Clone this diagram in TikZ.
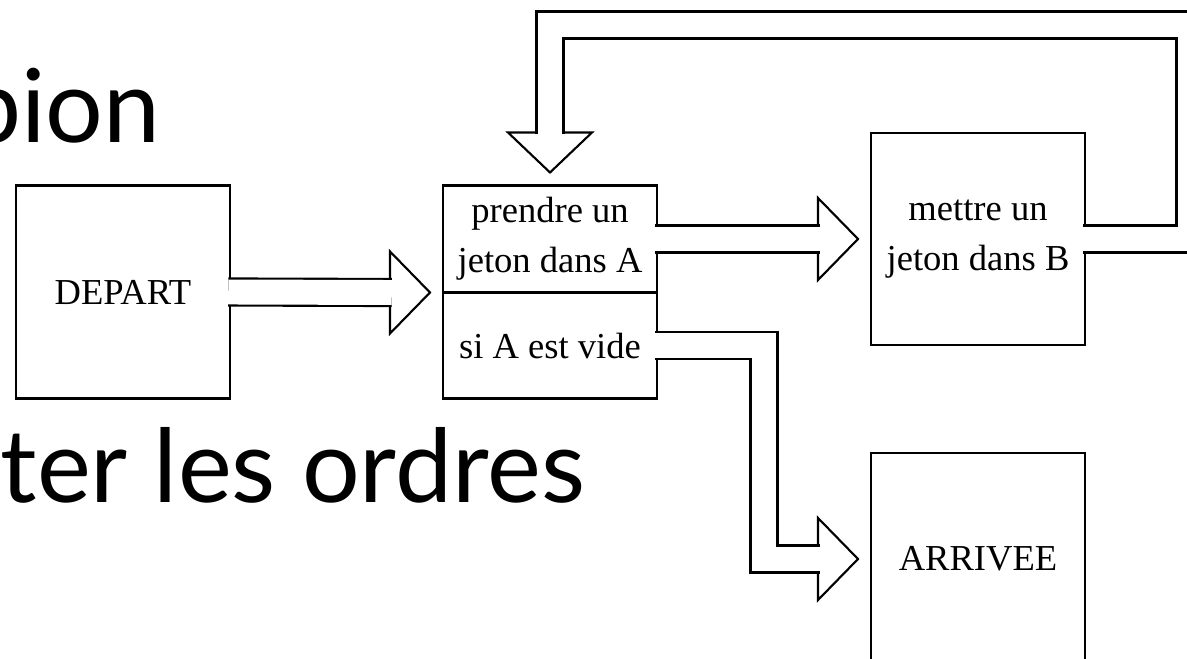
\documentclass[tikz,border=0pt]{standalone}
\usepackage{fontspec}
\setmainfont{Liberation Serif}
\newfontfamily\titlefont{Lato}
\usetikzlibrary{positioning}

\begin{document}
\begin{tikzpicture}[
    box/.style={draw, line width=0.6pt, outer sep=0pt, inner sep=1pt, minimum width=2.14cm, align=center, font=\fontsize{10.4}{14.2}\selectfont},
    shaft/.style={double, double distance=7.1pt, line width=0.6pt, shorten <=-0.5pt, shorten >=-0.5pt},
    head/.style={draw, fill=white, line width=0.6pt},
    title/.style={font=\titlefont\fontsize{29}{35}\selectfont, inner sep=0pt}
]
\useasboundingbox (0,0) rectangle (11.87,6.58);
\clip (0,0) rectangle (11.87,6.58);

\node[title, anchor=base east] (pion) at (1.61,5.15) {pion};
\node[title, anchor=base west] (ordres) at (0,1.56) {ter les ordres};

\node[box, minimum height=2.13cm] (depart) at (1.23,3.66) {DEPART};
\node[box, minimum height=1.07cm, right=2.13cm of depart.north east, anchor=north west] (prendre) {prendre un\\jeton dans A};
\node[box, minimum height=1.06cm, below=0pt of prendre] (vide) {si A est vide};
\node[box, minimum height=2.12cm, right=2.14cm of prendre] (mettre) {mettre un\\jeton dans B};
\node[box, minimum height=2.12cm, below=1.08cm of mettre] (arrivee) {ARRIVEE};

\coordinate (b1) at ([xshift=-0.53cm]prendre.south west);
\coordinate (b2) at ([xshift=-0.53cm]mettre.west);
\coordinate (b3) at ([xshift=-0.53cm]arrivee.west);
\coordinate (b4) at ([yshift=0.53cm]prendre.north);

\draw[head] (b1) -- ++(0,0.41) -- ++(0.40,-0.41) -- ++(-0.40,-0.41) -- cycle;
\draw[head] (b2) -- ++(0,0.41) -- ++(0.40,-0.41) -- ++(-0.40,-0.41) -- cycle;
\draw[head] (b3) -- ++(0,0.41) -- ++(0.40,-0.41) -- ++(-0.40,-0.41) -- cycle;
\draw[head] (b4) -- ++(0.42,0) -- ++(-0.42,-0.40) -- ++(-0.42,0.40) -- cycle;

\draw[shaft] (depart.east) -- (b1);
\draw[shaft] (prendre.east) -- (b2);
\draw[shaft] (vide.east) -- ++(1.07,0) |- (b3);
\draw[shaft] (mettre.east) -- ++(1.05,0) -- ++(0,2.14) -| (b4);

\end{tikzpicture}
\end{document}
